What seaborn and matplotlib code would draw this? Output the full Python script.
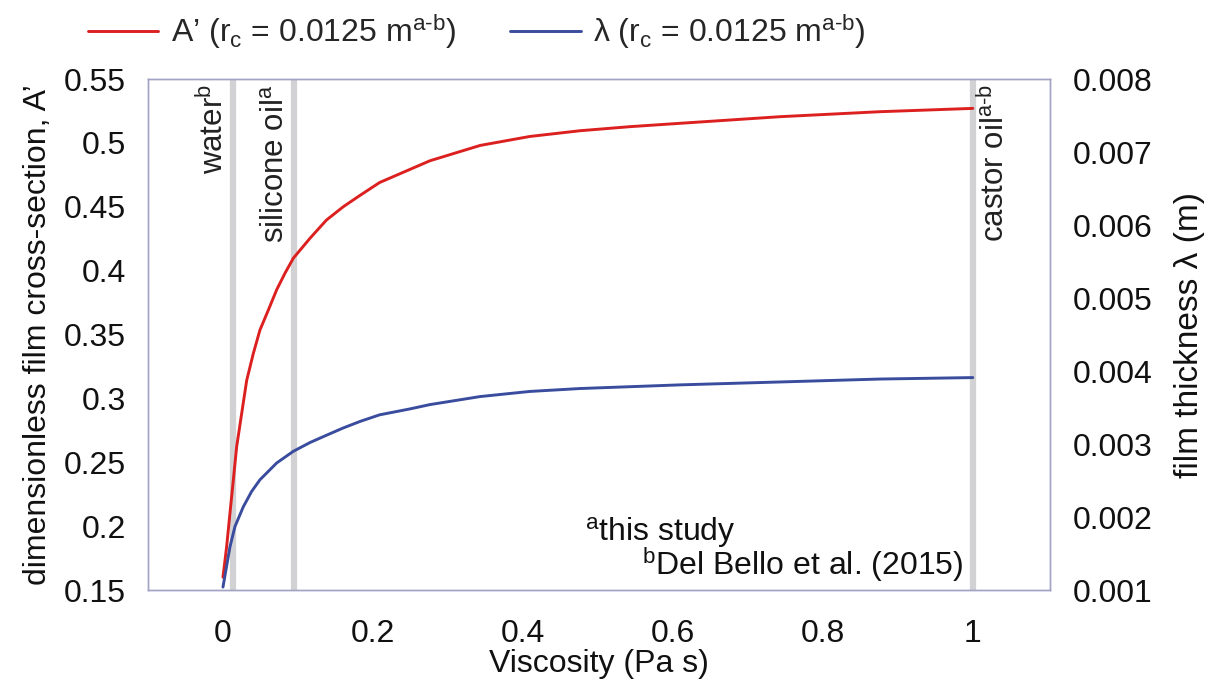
import matplotlib
matplotlib.use("Agg")
import matplotlib.pyplot as plt
import seaborn as sns
import pandas as pd

# Dimensionless film cross-section A' against viscosity
visc_a = [0.0, 0.0049, 0.0093, 0.0138, 0.0182, 0.0249, 0.0316, 0.0404, 0.0493,
          0.0604, 0.0716, 0.0827, 0.0938, 0.116, 0.138, 0.1604, 0.183, 0.209,
          0.276, 0.343, 0.409, 0.476, 0.543, 0.609, 0.743, 0.876, 1.0]
a_prime = [0.160, 0.184, 0.210, 0.236, 0.262, 0.288, 0.314, 0.335, 0.3535,
           0.369, 0.385, 0.398, 0.4097, 0.4253, 0.4396, 0.450, 0.459, 0.469,
           0.486, 0.498, 0.505, 0.5095, 0.5127, 0.5153, 0.5205, 0.5244, 0.527]

# Film thickness lambda (m) against viscosity
visc_l = [0.0, 0.0093, 0.016, 0.0271, 0.0382, 0.0493, 0.0716, 0.0938, 0.116,
          0.138, 0.1604, 0.183, 0.209, 0.249, 0.276, 0.343, 0.409, 0.476,
          0.609, 0.743, 0.876, 1.0]
lam = [0.00104, 0.00159, 0.00187, 0.00214, 0.00235, 0.00251, 0.00274, 0.00290,
       0.00302, 0.00312, 0.00322, 0.00331, 0.00340, 0.00348, 0.00354, 0.00365,
       0.00372, 0.00376, 0.00381, 0.00385, 0.00389, 0.00391]

# Reference fluids (viscosity, label, side of the marker line)
fluid_visc = [0.013, 0.095, 1.0]
fluid_names = ["water$^\\mathregular{b}$", "silicone oil$^\\mathregular{a}$",
               "castor oil$^\\mathregular{a\\text{-}b}$"]
fluid_side = ["left", "left", "right"]

x_ticks = [0, 0.2, 0.4, 0.6, 0.8, 1.0]
x_tick_labels = ["0", "0.2", "0.4", "0.6", "0.8", "1"]
yl_ticks = [0.15, 0.2, 0.25, 0.3, 0.35, 0.4, 0.45, 0.5, 0.55]
yl_tick_labels = ["0.15", "0.2", "0.25", "0.3", "0.35", "0.4", "0.45", "0.5", "0.55"]
yr_ticks = [0.001, 0.002, 0.003, 0.004, 0.005, 0.006, 0.007, 0.008]
yr_tick_labels = ["0.001", "0.002", "0.003", "0.004", "0.005", "0.006", "0.007", "0.008"]

sns.set_style("white")
plt.rcParams["font.family"] = ["Liberation Sans", "DejaVu Sans"]
plt.rcParams["mathtext.fontset"] = "custom"
plt.rcParams["mathtext.rm"] = "Liberation Sans"
plt.rcParams["mathtext.it"] = "Liberation Sans:italic"

RED = "#dc2020"
BLUE = "#3a4c9e"
GREY = "#d2d2d4"
FRAME = "#a3a3c6"
INK = "#111111"
FS = 23

fig = plt.figure(figsize=(12.21, 6.93), dpi=100)
ax = fig.add_axes([0.1212, 0.1486, 0.7388, 0.7374])
ax2 = ax.twinx()

for v, name, side in zip(fluid_visc, fluid_names, fluid_side):
    ax.axvline(v, color=GREY, lw=4.5, zorder=1)
    dx = -0.004 if side == "left" else 0.008
    ax.text(v + dx, 0.546, name, rotation=90, ha="right" if side == "left" else "left",
            va="top", fontsize=FS - 0.5, color="#222222")

df_a = pd.DataFrame({"visc": visc_a, "A": a_prime})
df_l = pd.DataFrame({"visc": visc_l, "lam": lam})
sns.lineplot(data=df_a, x="visc", y="A", ax=ax, color=RED, lw=2.1, zorder=3,
             label="A\u2019 (r$_\\mathregular{c}$ = 0.0125 m$^\\mathregular{a\\text{-}b}$)")
sns.lineplot(data=df_l, x="visc", y="lam", ax=ax2, color=BLUE, lw=2.1, zorder=3,
             label="\u03bb (r$_\\mathregular{c}$ = 0.0125 m$^\\mathregular{a\\text{-}b}$)")

ax.set_xlim(-0.1, 1.103)
ax.set_ylim(0.15, 0.55)
ax2.set_ylim(0.001, 0.008)

ax.set_xticks(x_ticks)
ax.set_xticklabels(x_tick_labels, fontsize=FS)
ax.set_yticks(yl_ticks)
ax.set_yticklabels(yl_tick_labels, fontsize=FS)
ax2.set_yticks(yr_ticks)
ax2.set_yticklabels(yr_tick_labels, fontsize=FS)
ax.tick_params(axis="x", length=0, pad=21, colors=INK)
ax.tick_params(axis="y", length=0, pad=16, colors=INK)
ax2.tick_params(axis="y", length=0, pad=16, colors=INK)

ax.set_xlabel("Viscosity (Pa s)", fontsize=FS, labelpad=0, color=INK)
ax.set_ylabel("dimensionless film cross-section, A\u2019", fontsize=FS, labelpad=8, color=INK)
ax2.set_ylabel("film thickness \u03bb (m)", fontsize=FS + 1, labelpad=16, color=INK)

for a in (ax, ax2):
    for s in a.spines.values():
        s.set_color(FRAME)
        s.set_linewidth(1.0)
    a.grid(False)

ax.text(0.484, 0.113, "$^\\mathregular{a}$this study", transform=ax.transAxes,
        fontsize=FS, ha="left", va="center", color=INK)
ax.text(0.548, 0.049, "$^\\mathregular{b}$Del Bello et al. (2015)", transform=ax.transAxes,
        fontsize=FS, ha="left", va="center", color=INK)

h1, l1 = ax.get_legend_handles_labels()
h2, l2 = ax2.get_legend_handles_labels()
ax.get_legend().remove()
ax2.get_legend().remove()
fig.legend(h1 + h2, l1 + l2, loc="center", bbox_to_anchor=(0.3907, 0.955), ncol=2,
           frameon=False, fontsize=FS, handlelength=2.2, columnspacing=1.7,
           handletextpad=0.4)

fig.savefig("out.png", dpi=100, facecolor="white")
